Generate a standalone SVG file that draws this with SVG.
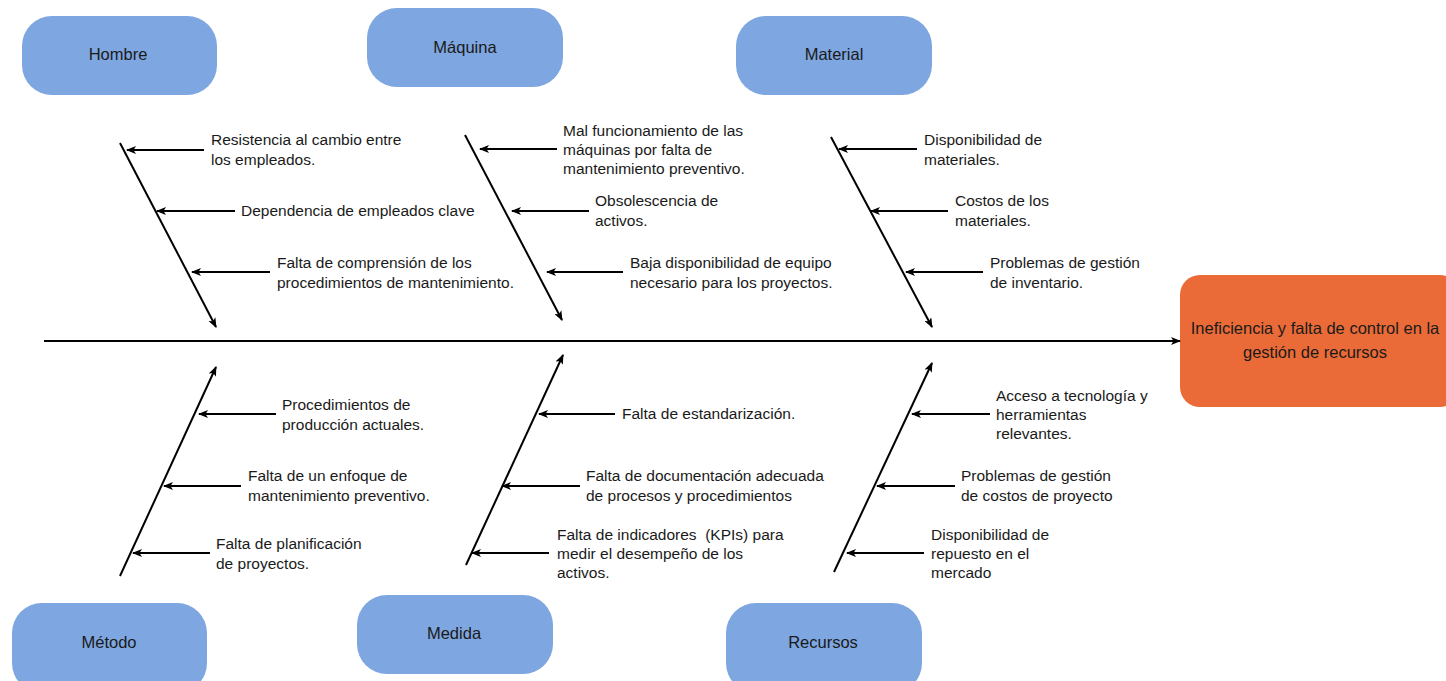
<svg xmlns="http://www.w3.org/2000/svg" width="1446" height="681" viewBox="0 0 1446 681">
<defs>
<marker id="ah" markerUnits="userSpaceOnUse" markerWidth="10" markerHeight="8" viewBox="0 0 10 8" refX="9" refY="4" orient="auto">
<path d="M0,0 L10,4 L0,8 L2.5,4 z" fill="#000"/>
</marker>
<style>
.cat{fill:#7EA6E0;stroke:none}
.eff{fill:#EA6B37;stroke:none}
.t{font-family:"Liberation Sans",Arial,sans-serif;font-size:15.5px;fill:#1a1a1a}
.n{font-size:16.5px}
.c{text-anchor:middle}
.ln{stroke:#000;stroke-width:2;fill:none;marker-end:url(#ah)}
</style>
</defs>
<rect width="1446" height="681" fill="#fff"/>
<g id="hombre"><rect class="cat" x="22" y="16" width="195" height="79" rx="30"/><text class="t n c" x="118" y="60">Hombre</text></g>
<g id="maquina"><rect class="cat" x="367" y="8" width="196" height="79" rx="30"/><text class="t n c" x="465" y="53">Máquina</text></g>
<g id="material"><rect class="cat" x="736" y="16" width="196" height="79" rx="30"/><text class="t n c" x="834" y="60">Material</text></g>
<g id="metodo"><rect class="cat" x="12" y="603" width="195" height="90" rx="30"/><text class="t n c" x="109" y="648">Método</text></g>
<g id="medida"><rect class="cat" x="357" y="595" width="196" height="79" rx="30"/><text class="t n c" x="454" y="639">Medida</text></g>
<g id="recursos"><rect class="cat" x="726" y="603" width="196" height="90" rx="30"/><text class="t n c" x="823" y="648">Recursos</text></g>
<g id="efecto"><rect class="eff" x="1180" y="275" width="280" height="132" rx="20"/><text class="t n c" x="1315" y="334">Ineficiencia y falta de control en la</text><text class="t n c" x="1315" y="358">gestión de recursos</text></g>
<g id="connectors">
<line class="ln" x1="44" y1="341" x2="1180" y2="341"/>
<line class="ln" x1="120" y1="143" x2="216" y2="327"/>
<line class="ln" x1="465" y1="135" x2="562" y2="320"/>
<line class="ln" x1="831" y1="137" x2="932" y2="327"/>
<line class="ln" x1="120" y1="576" x2="216" y2="367"/>
<line class="ln" x1="466" y1="565" x2="563" y2="355"/>
<line class="ln" x1="834" y1="572" x2="932" y2="363"/>
<line class="ln" x1="204" y1="150" x2="127" y2="150"/>
<line class="ln" x1="235" y1="211" x2="157" y2="211"/>
<line class="ln" x1="270" y1="272" x2="192" y2="272"/>
<line class="ln" x1="557" y1="149" x2="480" y2="149"/>
<line class="ln" x1="589" y1="211" x2="512" y2="211"/>
<line class="ln" x1="623" y1="272" x2="547" y2="272"/>
<line class="ln" x1="917" y1="149" x2="839" y2="149"/>
<line class="ln" x1="948" y1="211" x2="871" y2="211"/>
<line class="ln" x1="983" y1="272" x2="906" y2="272"/>
<line class="ln" x1="276" y1="414" x2="199" y2="414"/>
<line class="ln" x1="241" y1="486" x2="164" y2="486"/>
<line class="ln" x1="210" y1="553" x2="133" y2="553"/>
<line class="ln" x1="615" y1="414" x2="539" y2="414"/>
<line class="ln" x1="580" y1="486" x2="502" y2="486"/>
<line class="ln" x1="549" y1="553" x2="472" y2="553"/>
<line class="ln" x1="990" y1="414" x2="912" y2="414"/>
<line class="ln" x1="955" y1="486" x2="877" y2="486"/>
<line class="ln" x1="924" y1="553" x2="847" y2="553"/>
</g>
<g id="labels">
<text class="t" x="211" y="145">Resistencia al cambio entre</text><text class="t" x="211" y="165">los empleados.</text>
<text class="t" x="241" y="216">Dependencia de empleados clave</text>
<text class="t" x="277" y="268">Falta de comprensión de los</text><text class="t" x="277" y="288">procedimientos de mantenimiento.</text>
<text class="t" x="563" y="136">Mal funcionamiento de las</text><text class="t" x="563" y="155">máquinas por falta de</text><text class="t" x="563" y="174">mantenimiento preventivo.</text>
<text class="t" x="595" y="206">Obsolescencia de</text><text class="t" x="595" y="226">activos.</text>
<text class="t" x="630" y="268">Baja disponibilidad de equipo</text><text class="t" x="630" y="288">necesario para los proyectos.</text>
<text class="t" x="924" y="145">Disponibilidad de</text><text class="t" x="924" y="165">materiales.</text>
<text class="t" x="955" y="206">Costos de los</text><text class="t" x="955" y="226">materiales.</text>
<text class="t" x="990" y="268">Problemas de gestión</text><text class="t" x="990" y="288">de inventario.</text>
<text class="t" x="282" y="410">Procedimientos de</text><text class="t" x="282" y="430">producción actuales.</text>
<text class="t" x="248" y="481">Falta de un enfoque de</text><text class="t" x="248" y="501">mantenimiento preventivo.</text>
<text class="t" x="216" y="549">Falta de planificación</text><text class="t" x="216" y="569">de proyectos.</text>
<text class="t" x="622" y="419">Falta de estandarización.</text>
<text class="t" x="586" y="481">Falta de documentación adecuada</text><text class="t" x="586" y="501">de procesos y procedimientos</text>
<text class="t" x="557" y="540" xml:space="preserve">Falta de indicadores  (KPIs) para</text><text class="t" x="557" y="559">medir el desempeño de los</text><text class="t" x="557" y="578">activos.</text>
<text class="t" x="996" y="401">Acceso a tecnología y</text><text class="t" x="996" y="420">herramientas</text><text class="t" x="996" y="439">relevantes.</text>
<text class="t" x="961" y="481">Problemas de gestión</text><text class="t" x="961" y="501">de costos de proyecto</text>
<text class="t" x="931" y="540">Disponibilidad de</text><text class="t" x="931" y="559">repuesto en el</text><text class="t" x="931" y="578">mercado</text>
</g>
</svg>
